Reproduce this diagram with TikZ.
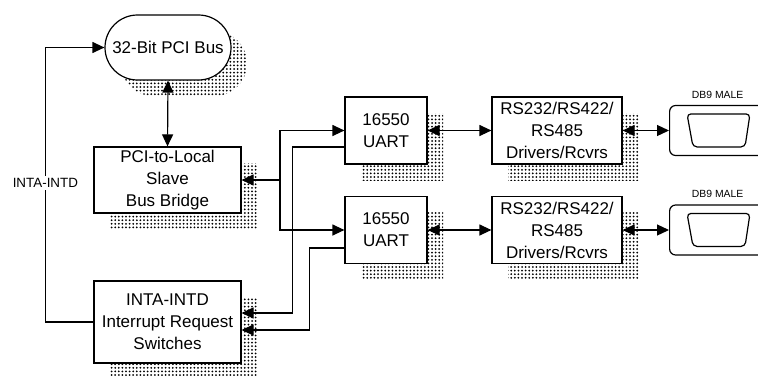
\documentclass[tikz,border=0pt]{standalone}
\usepackage{fontspec}
\setmainfont{Liberation Sans}
\usetikzlibrary{arrows.meta,calc,positioning,shapes.misc,shadows,patterns.meta}

\tikzset{
  dotshadow/.style={general shadow={shadow xshift=8pt, shadow yshift=-8pt,
      pattern={Dots[distance=1.8pt,radius=0.5pt]}, pattern color=black}},
  blk/.style={draw, fill=white, line width=0.6pt, align=center, inner sep=0.5pt,
      font=\fontsize{8.5}{11}\selectfont, dotshadow},
  conn/.style={draw, line width=0.6pt, rounded corners=3pt, minimum width=48pt, minimum height=25pt},
  tag/.style={inner sep=1pt, font=\fontsize{5.2}{6}\selectfont},
  link/.style={line width=0.6pt, -{Triangle[length=6pt,width=5.5pt]}},
  dlink/.style={line width=0.6pt, {Triangle[length=6pt,width=5.5pt]}-{Triangle[length=6pt,width=5.5pt]}},
}

\begin{document}
\begin{tikzpicture}[x=0.5pt, y=-0.5pt]
    \useasboundingbox (0,0) rectangle (758,375);

    % blocks
    \node[blk, rounded rectangle, minimum width=64pt, minimum height=32.5pt] (bus) at (168,47.5) {32-Bit PCI Bus};
    \node[blk, minimum width=73.5pt, minimum height=33pt] (bridge) at (167.5,180) {PCI-to-Local\\Slave\\Bus Bridge};
    \node[blk, minimum width=73.5pt, minimum height=41pt] (irq) at (167.5,322) {INTA-INTD\\Interrupt Request\\Switches};
    \node[blk, minimum width=41pt, minimum height=33.5pt] (uart1) at (386,130.5) {16550\\UART};
    \node[blk, minimum width=41pt, minimum height=33.5pt] (uart2) at (386,230) {16550\\UART};
    \node[blk, minimum width=65pt, minimum height=33.5pt] (rs1) at (557,130.5) {RS232/RS422/\\RS485\\Drivers/Rcvrs};
    \node[blk, minimum width=65pt, minimum height=33.5pt] (rs2) at (557,230) {RS232/RS422/\\RS485\\Drivers/Rcvrs};

    % DB9 connectors
    \node[conn, anchor=west] (db1) at (669,130.5) {};
    \node[conn, anchor=west] (db2) at (669,230) {};
    \node[tag, above=2pt of db1] (db1tag) {DB9 MALE};
    \node[tag, above=2pt of db2] (db2tag) {DB9 MALE};
    \foreach \d in {db1,db2}
        \draw[line width=0.6pt, rounded corners=2pt] ($(\d.north west)+(18,9)$) -- ($(\d.north west)+(81,9)$)
            -- ($(\d.north west)+(76,42)$) -- ($(\d.north west)+(24,42)$) -- cycle;

    % connections
    \draw[dlink] (bus.south) -- (bridge.north);
    \draw[link] (irq.west) -- ++(-48,0) |- node[pos=0.253, fill=white, inner sep=1pt, font=\fontsize{6.7}{8}\selectfont]{INTA-INTD} (bus.west);

    \coordinate (fork) at (280,180);
    \draw[link] (fork) -- (bridge.east);
    \draw[link] (fork) |- (uart1.west);
    \draw[link] (fork) |- (uart2.west);

    \draw[link] ([yshift=-8.25pt]uart1.west) -- ++(-52,0) |- ([yshift=4.5pt]irq.east);
    \draw[link] ([yshift=-9pt]uart2.west) -- ++(-35,0) |- ([yshift=-4pt]irq.east);

    \draw[dlink] (uart1.east) -- (rs1.west);
    \draw[dlink] (uart2.east) -- (rs2.west);
    \draw[dlink] (rs1.east) -- (db1.west);
    \draw[dlink] (rs2.east) -- (db2.west);
\end{tikzpicture}
\end{document}
